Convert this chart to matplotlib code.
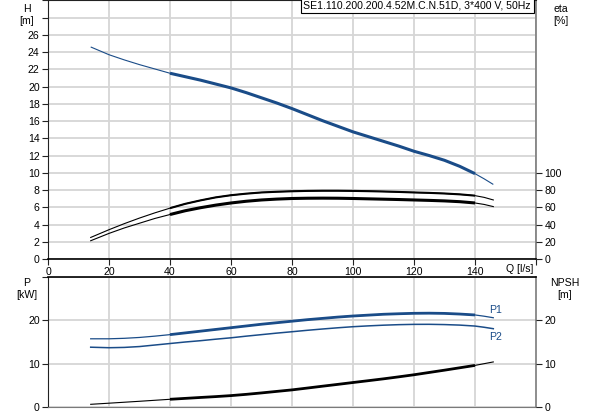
import numpy as np
import matplotlib
matplotlib.use("Agg")
import matplotlib.pyplot as plt

plt.rcParams['font.family'] = ['Liberation Sans', 'DejaVu Sans']
FS = 7.6
plt.rcParams['font.size'] = FS

# ---- data ----
q = [14, 20, 25, 30, 35, 40, 45, 50, 55, 60, 65, 70, 75, 80, 85, 90, 95, 100,
     105, 110, 115, 120, 125, 130, 135, 140, 143, 146]
head = [24.6, 23.7, 23.1, 22.55, 22.05, 21.55, 21.15, 20.75, 20.3, 19.85, 19.3, 18.7, 18.1, 17.45,
        16.75, 16.05, 15.4, 14.75, 14.2, 13.65, 13.1, 12.5, 12.0, 11.45, 10.75, 9.9, 9.3, 8.65]
eta_upper = [25, 34, 41, 47.5, 53.5, 59, 64, 68, 71.5, 74, 75.8, 77.2, 78, 78.6,
             79, 79.2, 79.2, 79, 78.7, 78.3, 77.8, 77.2, 76.7, 76, 75, 73.5, 71.5, 68.5]
eta_lower = [21.2, 29.7, 36, 41.5, 47, 51.6, 56, 59.5, 62.5, 65, 67, 68.5, 69.5, 70.2,
             70.5, 70.6, 70.5, 70.2, 69.8, 69.4, 69, 68.5, 68, 67.4, 66.5, 65, 63.3, 60.8]
p1 = [15.74, 15.74, 15.85, 16.05, 16.35, 16.7, 17.1, 17.5, 17.9, 18.3, 18.7, 19.1, 19.45, 19.8,
      20.15, 20.45, 20.75, 21.0, 21.2, 21.4, 21.52, 21.62, 21.65, 21.6, 21.45, 21.24, 20.95, 20.6]
p2 = [13.8, 13.68, 13.75, 13.95, 14.3, 14.65, 15.0, 15.3, 15.65, 15.97, 16.35, 16.7, 17.05, 17.37,
      17.7, 18.0, 18.28, 18.53, 18.72, 18.88, 19.0, 19.07, 19.08, 19.02, 18.9, 18.68, 18.4, 18.07]
npsh = [0.62, 0.88, 1.1, 1.32, 1.55, 1.78, 1.99, 2.2, 2.4, 2.63, 2.92, 3.25, 3.6, 3.95,
        4.37, 4.8, 5.22, 5.65, 6.07, 6.5, 6.96, 7.44, 7.97, 8.5, 9.05, 9.6, 10.0, 10.4]

x_ticks = [0, 20, 40, 60, 80, 100, 120, 140]
h_ticks = [0, 2, 4, 6, 8, 10, 12, 14, 16, 18, 20, 22, 24, 26]
eta_ticks = [0, 20, 40, 60, 80, 100]
p_ticks = [0, 10, 20]
title = "SE1.110.200.200.4.52M.C.N.51D, 3*400 V, 50Hz"

BLUE = '#1a4c88'
GRID = '#d6d6d6'
SPINE_DARK = '#222222'
SPINE_GRAY = '#7a7a7a'

q = np.array(q)
def seg(arr, lo, hi):
    arr = np.array(arr, dtype=float)
    m = (q >= lo) & (q <= hi)
    return q[m], arr[m]

fig = plt.figure(figsize=(5.93, 4.15), dpi=100)
W, H = 593, 415
left = 48 / W
width = (536 - 48) / W
ax1 = fig.add_axes([left, 1 - 259 / H, width, 259 / H - 0.001])
ax2 = fig.add_axes([left, 1 - 407 / H, width, 130 / H])

for ax in (ax1, ax2):
    ax.set_xlim(0, 160)
    ax.set_ylim(0, 30)
    ax.set_axisbelow(True)

# ---- top chart ----
ax1.set_xticks(list(range(0, 161, 20)))
ax1.set_xticklabels([str(v) for v in x_ticks] + [''])
ax1.set_yticks(list(range(0, 31, 2)))
ax1.set_yticklabels([str(v) for v in h_ticks] + ['', ''])
ax1.grid(True, color=GRID, lw=1.3)
ax1.tick_params(axis='both', direction='out', length=4, width=0.8, color=SPINE_DARK, pad=2, labelsize=FS)
ax1.spines['left'].set_color(SPINE_DARK)
ax1.spines['bottom'].set_color('black')
ax1.spines['bottom'].set_linewidth(1.2)
ax1.spines['top'].set_color(SPINE_DARK)
ax1.spines['right'].set_color(SPINE_GRAY)
ax1.spines['right'].set_linewidth(1.2)

# H curve
ax1.plot(q, head, color=BLUE, lw=0.8, solid_capstyle='butt')
ax1.plot(*seg(head, 40, 140), color=BLUE, lw=2.2, solid_capstyle='butt', solid_joinstyle='round')
# eta curves (drawn on H scale: eta/10)
eu = np.array(eta_upper) / 10.0
el = np.array(eta_lower) / 10.0
ax1.plot(q, eu, color='black', lw=0.8)
ax1.plot(*seg(eu, 40, 140), color='black', lw=1.5, solid_capstyle='butt')
ax1.plot(q, el, color='black', lw=0.8)
ax1.plot(*seg(el, 40, 140), color='black', lw=2.2, solid_capstyle='butt')

ax1r = ax1.twinx()
ax1r.set_ylim(0, 300)
ax1r.set_yticks(eta_ticks)
ax1r.set_yticklabels([str(v) for v in eta_ticks])
ax1r.tick_params(axis='y', direction='out', length=4, width=0.8, color=SPINE_DARK, pad=2, labelsize=FS)
for s in ax1r.spines.values():
    s.set_visible(False)

fig.text(533 / W, 1 - 269 / H, 'Q [l/s]', ha='right', va='center', fontsize=FS)
ax1.text(0.99, 0.999, title, transform=ax1.transAxes, ha='right', va='top', fontsize=FS,
         bbox=dict(boxstyle='square,pad=0.25', fc='white', ec='black', lw=0.8))

fig.text(27 / W, 1 - 9 / H, 'H', ha='center', va='center', fontsize=FS)
fig.text(27 / W, 1 - 21 / H, '[m]', ha='center', va='center', fontsize=FS)
fig.text(561 / W, 1 - 9 / H, 'eta', ha='center', va='center', fontsize=FS)
fig.text(561 / W, 1 - 21 / H, '[%]', ha='center', va='center', fontsize=FS)

# ---- bottom chart ----
ax2.set_xticks(list(range(20, 141, 20)))
ax2.set_xticklabels([])
ax2.tick_params(axis='x', length=0)
ax2.set_yticks([0, 10, 20, 30])
ax2.set_yticklabels([str(v) for v in p_ticks] + [''])
ax2.grid(True, color=GRID, lw=1.3)
ax2.tick_params(axis='y', direction='out', length=4, width=0.8, color=SPINE_DARK, pad=2, labelsize=FS)
ax2.spines['left'].set_color(SPINE_DARK)
ax2.spines['top'].set_color('black')
ax2.spines['top'].set_linewidth(1.2)
ax2.spines['bottom'].set_color(SPINE_GRAY)
ax2.spines['right'].set_color(SPINE_GRAY)
ax2.spines['right'].set_linewidth(1.2)

ax2.plot(q, p1, color=BLUE, lw=0.9)
ax2.plot(*seg(p1, 40, 140), color=BLUE, lw=2.0, solid_capstyle='butt')
ax2.plot(q, p2, color=BLUE, lw=1.1)
ax2.plot(q, npsh, color='black', lw=0.8)
ax2.plot(*seg(npsh, 40, 140), color='black', lw=2.0, solid_capstyle='butt')

ax2.text(q[-1] - 1.5, p1[-1] + 0.7, 'P1', color=BLUE, ha='left', va='bottom', fontsize=FS)
ax2.text(q[-1] - 1.5, p2[-1] - 0.7, 'P2', color=BLUE, ha='left', va='top', fontsize=FS)

ax2r = ax2.twinx()
ax2r.set_ylim(0, 30)
ax2r.set_yticks(p_ticks)
ax2r.set_yticklabels([str(v) for v in p_ticks])
ax2r.tick_params(axis='y', direction='out', length=4, width=0.8, color=SPINE_DARK, pad=2, labelsize=FS)
for s in ax2r.spines.values():
    s.set_visible(False)

fig.text(27 / W, 1 - 283 / H, 'P', ha='center', va='center', fontsize=FS)
fig.text(27 / W, 1 - 295 / H, '[kW]', ha='center', va='center', fontsize=FS)
fig.text(565 / W, 1 - 283 / H, 'NPSH', ha='center', va='center', fontsize=FS)
fig.text(565 / W, 1 - 295 / H, '[m]', ha='center', va='center', fontsize=FS)

fig.savefig('out.png', dpi=100, facecolor='white')
